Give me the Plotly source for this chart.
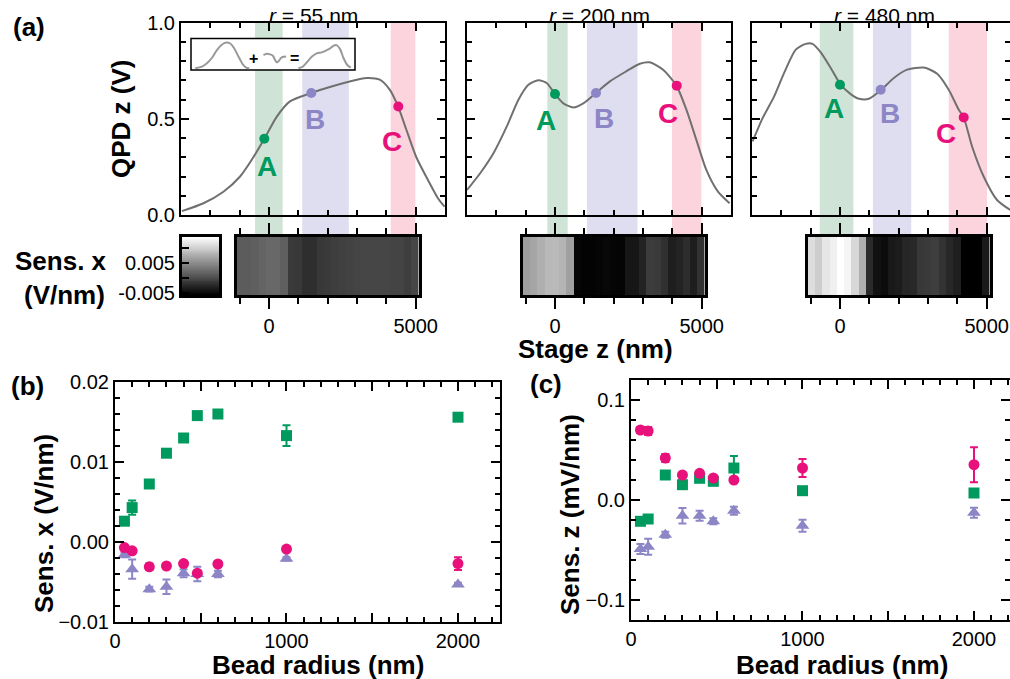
import numpy as np
import plotly.graph_objects as go

W, H = 1010, 679
FONT = "Liberation Sans, Arial, Helvetica, sans-serif"
GREEN, PURPLE, PINK = "#009a5e", "#8c86c6", "#e8117b"
BAND_COLORS = ["#cfe4d6", "#dfdef0", "#fbd4dd"]
CURVE = "#707070"

# ---------------- panel (a): QPD z vs stage z ----------------
radius_titles = ["55", "200", "480"]
stage_z_55 = [-2970, -2234, -1554, -986, -533, -159, 261, 714, 1440, 2075, 2755, 3322,
              3775, 4115, 4399, 4683, 5023, 5418, 5759, 5986]
qpd_55 = [0.020, 0.061, 0.121, 0.200, 0.300, 0.396, 0.510, 0.590, 0.634, 0.665, 0.694, 0.712,
          0.703, 0.651, 0.564, 0.443, 0.300, 0.182, 0.087, 0.043]
stage_z_200 = [-3000, -2551, -2098, -1643, -1247, -907, -567, -283, 0, 283, 624, 964, 1395,
               1871, 2438, 2891, 3231, 3685, 4139, 4479, 4819, 5159, 5556, 5952]
qpd_200 = [0.130, 0.217, 0.321, 0.460, 0.599, 0.677, 0.700, 0.686, 0.628, 0.580, 0.559, 0.580,
           0.634, 0.694, 0.747, 0.786, 0.793, 0.755, 0.672, 0.547, 0.390, 0.234, 0.121, 0.061]
stage_z_480 = [-2980, -2639, -2245, -1905, -1507, -1167, -939, -656, -316, 24, 364, 647, 987,
               1408, 1837, 2292, 2857, 3313, 3707, 4048, 4218, 4503, 4898, 5354, 5806]
qpd_480 = [0.382, 0.503, 0.616, 0.738, 0.859, 0.889, 0.889, 0.845, 0.764, 0.677, 0.628, 0.604,
           0.604, 0.651, 0.712, 0.755, 0.766, 0.734, 0.651, 0.547, 0.507, 0.356, 0.200, 0.078, 0.026]

# marked points A, B, C on each curve
point_z_55 = [-160, 1442, 4408]
point_v_55 = [0.396, 0.634, 0.564]
point_z_200 = [0, 1398, 4150]
point_v_200 = [0.629, 0.634, 0.672]
point_z_480 = [0, 1388, 4218]
point_v_480 = [0.677, 0.651, 0.507]
point_names = ["A", "B", "C"]

# shaded stage-z windows (start, end) for A, B, C
bands_55 = [(-476, 466), (1133, 2721), (4150, 4990)]
bands_200 = [(-262, 432), (1088, 2812), (3990, 4990)]
bands_480 = [(-690, 456), (1122, 2429), (3707, 5014)]

# sensitivity x maps along stage z (V/nm), 25 bins from -1100 to 5100 nm
sens_map_55 = [0.00130, 0.00130, 0.00153, 0.00191, 0.00221, 0.00221, 0.00153, -0.00129, -0.00144,
               -0.00220, -0.00220, -0.00144, -0.00129, -0.00098, -0.00083, -0.00068, -0.00053,
               -0.00037, -0.00037, -0.00037, -0.00037, -0.00053, -0.00053, -0.00098, -0.00037]
sens_map_200 = [0.00632, 0.00685, 0.00761, 0.00837, 0.00845, 0.00799, 0.00647, -0.00532, -0.00547,
                -0.00547, -0.00532, -0.00509, -0.00532, -0.00540, -0.00403, -0.00403, -0.00304,
                -0.00114, -0.00129, -0.00205, -0.00342, -0.00304, -0.00228, -0.00342, -0.00190]
sens_map_480 = [0.01111, 0.00990, 0.01180, 0.01256, 0.01450, 0.01294, 0.01066, 0.00761, -0.00250,
                -0.00441, -0.00479, -0.00380, -0.00357, -0.00281, -0.00266, -0.00144, -0.00129,
                -0.00098, -0.00182, -0.00266, -0.00334, -0.00600, -0.00600, -0.00600, -0.00372]
map_z_start, map_z_end = -1100, 5100
CMIN, CMAX = -0.0057, 0.0137

# inset schematic
inset_peak_x = [2.6, 6.7, 9.7, 12.8, 15.8, 18.9, 21.5, 23.9, 26.4, 29.0, 31.6, 33.7, 35.5]
inset_peak_y = [5.3, 10.5, 21.1, 38.9, 63.2, 81.1, 87.4, 84.2, 68.4, 42.1, 17.9, 7.4, 5.3]
inset_wig_x = [44.2, 46.2, 48.3, 49.9, 51.3, 52.3, 53.5, 55.0, 56.4, 58.0]
inset_wig_y = [47.4, 51.6, 49.5, 45.3, 31.6, 24.2, 28.4, 38.9, 42.1, 43.2]
inset_sum_x = [65.5, 68.2, 70.6, 73.6, 76.7, 79.7, 82.4, 84.8, 86.8, 88.8, 90.9, 92.9, 95.3, 97.4]
inset_sum_y = [5.3, 10.5, 24.2, 42.1, 52.6, 55.8, 62.1, 68.4, 76.8, 78.9, 66.3, 38.9, 15.8, 7.4]

# ---------------- panels (b) and (c) ----------------
bead_radius = [55, 100, 200, 300, 400, 480, 600, 1000, 2000]
sens_x_A = [0.0026, 0.0043, 0.00725, 0.0111, 0.0130, 0.0158, 0.0160, 0.0133, 0.0156]
sens_x_A_err = [0.0003, 0.0009, 0.0004, 0.0003, 0.0003, 0.0003, 0.0003, 0.0013, 0.0003]
sens_x_B = [-0.0016, -0.0034, -0.0059, -0.0056, -0.0039, -0.0040, -0.0040, -0.0021, -0.0053]
sens_x_B_err = [0.0003, 0.0012, 0.0003, 0.0009, 0.0005, 0.0009, 0.0004, 0.0002, 0.0002]
sens_x_C = [-0.0007, -0.0011, -0.0031, -0.0030, -0.0027, -0.0039, -0.00275, -0.00088, -0.0027]
sens_x_C_err = [0.0002, 0.0003, 0.0004, 0.0002, 0.0002, 0.0003, 0.0003, 0.0002, 0.0008]

sens_z_A = [-0.0213, -0.019, 0.025, 0.0153, 0.0217, 0.0187, 0.032, 0.0093, 0.007]
sens_z_A_err = [0.003, 0.003, 0.003, 0.004, 0.003, 0.003, 0.012, 0.003, 0.003]
sens_z_B = [-0.049, -0.0467, -0.0347, -0.0157, -0.0157, -0.0213, -0.0107, -0.0257, -0.0127]
sens_z_B_err = [0.005, 0.008, 0.003, 0.0077, 0.005, 0.003, 0.004, 0.006, 0.005]
sens_z_C = [0.070, 0.069, 0.042, 0.025, 0.0267, 0.022, 0.020, 0.032, 0.0353]
sens_z_C_err = [0.003, 0.004, 0.004, 0.002, 0.002, 0.002, 0.002, 0.009, 0.0175]


# ---------------- helpers ----------------
def xdom(p0, p1):
    return [p0 / W, min(p1 / W, 1.0)]


def ydom(top, bot):
    return [1 - bot / H, 1 - top / H]


def px(x):
    return x / W


def py(y):
    return 1 - y / H


def an(i):
    return "" if i == 1 else str(i)


fig = go.Figure()
layout = {}
shapes = []
annotations = []

frame = dict(showline=True, linecolor="black", linewidth=2, showgrid=False, zeroline=False,
             tickcolor="black", tickwidth=2,
             tickfont=dict(family=FONT, size=20, color="black"))

curves = [(stage_z_55, qpd_55, point_z_55, point_v_55, bands_55),
          (stage_z_200, qpd_200, point_z_200, point_v_200, bands_200),
          (stage_z_480, qpd_480, point_z_480, point_v_480, bands_480)]
maps = [sens_map_55, sens_map_200, sens_map_480]

# pixel geometry of panel (a)
upper_x = [(181, 445), (467, 731), (752, 1010)]
upper_range = [[-3000, 6000], [-3000, 6000], [-3000, 5796]]
zero_px = [269, 555, 840]
UP_TOP, UP_BOT = 22.5, 215
MAP_TOP, MAP_BOT = 237, 295
scale = 264 / 9000.0  # px per nm

label_pos = [
    [(-78, 0.252), (1579, 0.495), (4183, 0.382)],
    [(-317, 0.491), (1671, 0.503), (3853, 0.526)],
    [(-194, 0.552), (1694, 0.528), (3603, 0.422)],
]
pcolors = [GREEN, PURPLE, PINK]

for i in range(3):
    k = i + 1
    zs, vs, pz, pv, bands = curves[i]
    fig.add_trace(go.Scatter(x=zs, y=vs, mode="lines",
                             line=dict(color=CURVE, width=2, shape="spline", smoothing=0.7),
                             xaxis="x" + an(k), yaxis="y" + an(k), hoverinfo="skip", showlegend=False))
    fig.add_trace(go.Scatter(x=pz, y=pv, mode="markers",
                             marker=dict(color=pcolors, size=10),
                             xaxis="x" + an(k), yaxis="y" + an(k), hoverinfo="skip", showlegend=False))
    layout["xaxis" + an(k)] = dict(frame, domain=xdom(*upper_x[i]), range=upper_range[i],
                                   anchor="y" + an(k), mirror="ticks", ticks="inside", ticklen=8,
                                   tickmode="linear", tick0=0, dtick=5000, showticklabels=False,
                                   minor=dict(ticks="inside", ticklen=5, tickwidth=2, dtick=1000,
                                              tick0=0, tickcolor="black"))
    layout["yaxis" + an(k)] = dict(frame, domain=ydom(UP_TOP, UP_BOT), range=[0, 1.0],
                                   anchor="x" + an(k), mirror=("ticks" if k < 3 else False),
                                   ticks="inside", ticklen=8, tickmode="linear", tick0=0, dtick=0.5,
                                   tickformat=".1f", showticklabels=(k == 1),
                                   minor=dict(ticks="inside", ticklen=5, tickwidth=2, dtick=0.1,
                                              tick0=0, tickcolor="black"))
    # bands
    for b, (z0, z1) in enumerate(bands):
        shapes.append(dict(type="rect", xref="x" + an(k), yref="paper", x0=z0, x1=z1,
                           y0=py(MAP_TOP), y1=py(UP_TOP), fillcolor=BAND_COLORS[b],
                           line=dict(width=0), layer="below"))
    # labels
    for j, (lx, ly) in enumerate(label_pos[i]):
        annotations.append(dict(xref="x" + an(k), yref="y" + an(k), x=lx, y=ly,
                                xanchor="center", yanchor="middle",
                                text=point_names[j], showarrow=False,
                                font=dict(family=FONT, size=28, color=pcolors[j], weight="bold")))
    # title
    cx = upper_x[i][0] + 132
    annotations.append(dict(xref="paper", yref="paper", x=px(cx), y=py(15), xanchor="center",
                            yanchor="middle",
                            text="<i>r</i> = %s nm" % radius_titles[i], showarrow=False,
                            font=dict(family=FONT, size=21, color="black")))

    # heatmap strip
    m = k + 3
    edges = np.linspace(map_z_start, map_z_end, len(maps[i]) + 1)
    fig.add_trace(go.Heatmap(z=[maps[i]], x=edges, y=[0, 1],
                             colorscale=[[0, "black"], [1, "white"]], zmin=CMIN, zmax=CMAX,
                             showscale=False, xaxis="x" + an(m), yaxis="y" + an(m), hoverinfo="skip"))
    x0 = zero_px[i] + map_z_start * scale
    x1 = zero_px[i] + map_z_end * scale
    layout["xaxis" + an(m)] = dict(frame, domain=xdom(x0, x1), range=[map_z_start, map_z_end],
                                   anchor="y" + an(m), mirror="ticks", ticks="outside", ticklen=11,
                                   linewidth=3, tickvals=[0, 5000], ticktext=["0", "5000"],
                                   minor=dict(ticks="outside", ticklen=6, tickwidth=2, dtick=1000,
                                              tick0=0, tickcolor="black", tickmode="linear"))
    layout["yaxis" + an(m)] = dict(frame, domain=ydom(MAP_TOP, MAP_BOT), range=[0, 1],
                                   anchor="x" + an(m), mirror=True, linewidth=3, ticks="",
                                   showticklabels=False)

# right-hand tick marks for clipped r = 480 nm panel
fig.add_trace(go.Scatter(x=[], y=[], xaxis="x3", yaxis="y11", showlegend=False, hoverinfo="skip"))
layout["yaxis11"] = dict(frame, overlaying="y3", side="right", anchor="x3", range=[0, 1.0],
                         showline=False, ticks="inside", ticklen=8, tickmode="linear", tick0=0,
                         dtick=0.5, showticklabels=False,
                         minor=dict(ticks="inside", ticklen=5, tickwidth=2, dtick=0.1, tick0=0,
                                    tickcolor="black"))

# colour bar drawn as a gradient strip
cb_edges = np.linspace(CMIN, CMAX, 61)
cb_vals = (cb_edges[:-1] + cb_edges[1:]) / 2
fig.add_trace(go.Heatmap(z=[[v] for v in cb_vals], x=[0, 1], y=cb_edges,
                         colorscale=[[0, "black"], [1, "white"]], zmin=CMIN, zmax=CMAX,
                         showscale=False, xaxis="x7", yaxis="y7", hoverinfo="skip"))
layout["xaxis7"] = dict(frame, domain=xdom(182, 219), range=[0, 1], anchor="y7", mirror=True,
                        linewidth=3, ticks="", showticklabels=False)
layout["yaxis7"] = dict(frame, domain=ydom(MAP_TOP, MAP_BOT), range=[CMIN, CMAX], anchor="x7",
                        mirror=True, linewidth=3, ticks="inside", ticklen=7,
                        tickvals=[-0.005, 0, 0.005, 0.01], ticktext=["-0.005", "", "0.005", ""])

# inset schematic
for xs, ys in [(inset_peak_x, inset_peak_y), (inset_wig_x, inset_wig_y), (inset_sum_x, inset_sum_y)]:
    fig.add_trace(go.Scatter(x=xs, y=ys, mode="lines",
                             line=dict(color="#999999", width=2, shape="spline", smoothing=0.8),
                             xaxis="x10", yaxis="y10", showlegend=False, hoverinfo="skip"))
layout["xaxis10"] = dict(domain=xdom(191, 355), range=[0, 100], anchor="y10", visible=False)
layout["yaxis10"] = dict(domain=ydom(38.5, 70), range=[0, 100], anchor="x10", visible=False)
shapes.append(dict(type="rect", xref="paper", yref="paper", x0=px(191), x1=px(355),
                   y0=py(70), y1=py(38.5), fillcolor="white",
                   line=dict(color="black", width=1.5), layer="below"))
for sym, sx in [("+", 38.1), ("=", 62.9)]:
    annotations.append(dict(xref="x10", yref="y10", x=sx, y=38, text=sym, showarrow=False,
                            xanchor="center", yanchor="middle",
                            font=dict(family=FONT, size=16, color="black", weight="bold")))

# ---------------- panels (b), (c) ----------------
series_b = [(sens_x_A, sens_x_A_err, GREEN, "square", 11),
            (sens_x_B, sens_x_B_err, PURPLE, "triangle-up", 12),
            (sens_x_C, sens_x_C_err, PINK, "circle", 11)]
series_c = [(sens_z_A, sens_z_A_err, GREEN, "square", 11),
            (sens_z_B, sens_z_B_err, PURPLE, "triangle-up", 12),
            (sens_z_C, sens_z_C_err, PINK, "circle", 11)]
for ax, series in [(8, series_b), (9, series_c)]:
    for ys, es, col, sym, sz in series:
        fig.add_trace(go.Scatter(x=bead_radius, y=ys, mode="markers",
                                 marker=dict(color=col, symbol=sym, size=sz, line=dict(width=0)),
                                 error_y=dict(type="data", array=es, color=col, thickness=2, width=4),
                                 xaxis="x%d" % ax, yaxis="y%d" % ax, showlegend=False,
                                 hoverinfo="skip"))

xb_common = dict(tickvals=[0, 500, 1000, 1500, 2000], ticktext=["0", "", "1000", "", "2000"],
                 ticks="inside", ticklen=9, mirror="ticks",
                 minor=dict(ticks="inside", ticklen=5, tickwidth=2, dtick=100, tick0=0,
                            tickcolor="black", tickmode="linear"))
layout["xaxis8"] = dict(frame, **xb_common, domain=xdom(115, 500), range=[0, 2245], anchor="y8")
layout["yaxis8"] = dict(frame, domain=ydom(382, 622), range=[-0.01, 0.02], anchor="x8",
                        mirror="ticks", ticks="inside", ticklen=9, tickmode="linear", tick0=0,
                        dtick=0.01, tickformat=".2f",
                        minor=dict(ticks="inside", ticklen=5, tickwidth=2, dtick=0.002, tick0=0,
                                   tickcolor="black"))
layout["xaxis9"] = dict(frame, **xb_common, domain=xdom(631, 1010), range=[0, 2210], anchor="y9")
layout["yaxis9"] = dict(frame, domain=ydom(380, 620), range=[-0.12, 0.12], anchor="x9",
                        mirror=False, ticks="inside", ticklen=9, tickvals=[-0.1, 0, 0.1],
                        tickformat=".1f",
                        minor=dict(ticks="inside", ticklen=5, tickwidth=2, dtick=0.02, tick0=0,
                                   tickcolor="black", tickmode="linear"))
fig.add_trace(go.Scatter(x=[], y=[], xaxis="x9", yaxis="y12", showlegend=False, hoverinfo="skip"))
layout["yaxis12"] = dict(frame, overlaying="y9", side="right", anchor="x9", range=[-0.12, 0.12],
                         showline=False, ticks="inside", ticklen=9, tickvals=[-0.1, 0, 0.1],
                         showticklabels=False,
                         minor=dict(ticks="inside", ticklen=5, tickwidth=2, dtick=0.02, tick0=0,
                                    tickcolor="black", tickmode="linear"))

# ---------------- text ----------------
bold = dict(family=FONT, size=26, color="black", weight="bold")
texts = [
    ("(a)", 29, 27, 0), ("(b)", 27, 386, 0), ("(c)", 546, 384, 0),
    ("QPD z (V)", 121, 119, -90),
    ("Sens. x", 61, 261, 0), ("(V/nm)", 64, 295, 0),
    ("Stage z (nm)", 595, 349, 0),
    ("Bead radius (nm)", 318, 665, 0), ("Sens. x (V/nm)", 44, 524, -90),
    ("Bead radius (nm)", 842, 665, 0), ("Sens. z (mV/nm)", 570, 515, -90),
]
for t, x, y, rot in texts:
    annotations.append(dict(xref="paper", yref="paper", x=px(x), y=py(y), xanchor="center",
                            yanchor="middle", text=t, showarrow=False, textangle=rot, font=bold))

layout.update(dict(width=W, height=H, margin=dict(l=0, r=0, t=0, b=0, autoexpand=False),
                   paper_bgcolor="white", plot_bgcolor="rgba(0,0,0,0)",
                   shapes=shapes, annotations=annotations, hovermode=False,
                   font=dict(family=FONT, size=20, color="black")))
fig.update_layout(**layout)
fig.write_html("out.html", config={"displayModeBar": False},
               post_script="document.body.style.margin='0';document.body.style.overflow='hidden';")
